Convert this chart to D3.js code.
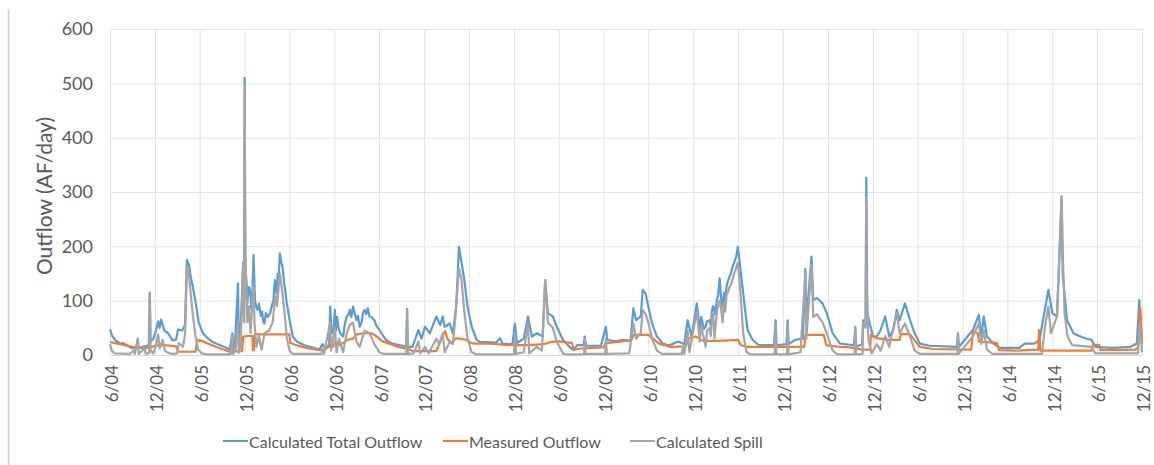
<!DOCTYPE html>
<html>
<head>
<meta charset="utf-8">
<script src="https://cdn.jsdelivr.net/npm/d3@7"></script>
<style>
  html, body { margin: 0; padding: 0; background: #ffffff; }
  svg { display: block; font-family: Lato, "Open Sans", sans-serif; }
</style>
</head>
<body>
<svg id="chart" width="1154" height="465"></svg>
<script>
// Month/year tick labels along the time axis
const tickLabels = ["6/04","12/04","6/05","12/05","6/06","12/06","6/07","12/07","6/08","12/08","6/09","12/09",
  "6/10","12/10","6/11","12/11","6/12","12/12","6/13","12/13","6/14","12/14","6/15","12/15"];
const yTicks = [0, 100, 200, 300, 400, 500, 600];

const seriesNames = ["Calculated Total Outflow", "Measured Outflow", "Calculated Spill"];

// Calculated total outflow (AF/day)
const totalOutflow = [
  ["2004-06-01",47],["2004-06-10",35],["2004-06-25",26],["2004-07-05",24],["2004-07-12",20],["2004-07-20",22],
  ["2004-08-10",18],["2004-08-25",13],["2004-09-15",12],["2004-09-22",30],["2004-09-26",13],["2004-10-20",16],
  ["2004-11-06",18],["2004-11-10",115],["2004-11-13",25],["2004-11-25",30],["2004-12-05",45],["2004-12-14",62],
  ["2004-12-20",50],["2004-12-26",65],["2005-01-08",45],["2005-01-24",40],["2005-02-10",27],["2005-02-25",28],
  ["2005-03-05",47],["2005-03-22",45],["2005-04-02",55],["2005-04-10",175],["2005-04-19",165],["2005-04-27",140],
  ["2005-05-04",126],["2005-05-16",95],["2005-05-28",60],["2005-06-14",40],["2005-07-01",32],["2005-07-20",25],
  ["2005-08-14",20],["2005-09-08",15],["2005-10-01",10],["2005-10-12",40],["2005-10-15",12],["2005-10-22",15],
  ["2005-11-04",132],["2005-11-07",25],["2005-11-16",60],["2005-11-25",171],["2005-11-29",100],["2005-12-01",510],
  ["2005-12-04",160],["2005-12-09",132],["2005-12-12",95],["2005-12-16",120],["2005-12-20",125],["2005-12-25",110],
  ["2005-12-28",85],["2006-01-02",120],["2006-01-06",184],["2006-01-12",101],["2006-01-16",90],["2006-01-22",83],
  ["2006-01-28",95],["2006-02-05",72],["2006-02-10",80],["2006-02-15",61],["2006-02-20",58],["2006-02-25",77],
  ["2006-03-05",70],["2006-03-15",77],["2006-03-20",88],["2006-03-28",100],["2006-04-03",138],["2006-04-10",114],
  ["2006-04-15",150],["2006-04-18",130],["2006-04-23",187],["2006-04-30",170],["2006-05-05",160],["2006-05-10",133],
  ["2006-05-15",120],["2006-05-20",100],["2006-06-02",64],["2006-06-15",34],["2006-07-01",25],["2006-08-01",18],
  ["2006-09-01",14],["2006-10-01",10],["2006-10-14",20],["2006-10-25",12],["2006-11-10",15],["2006-11-14",89],
  ["2006-11-20",40],["2006-11-27",40],["2006-11-30",60],["2006-12-03",83],["2006-12-08",45],["2006-12-12",70],
  ["2006-12-17",52],["2006-12-25",40],["2007-01-06",34],["2007-01-12",55],["2007-01-20",71],["2007-01-28",75],
  ["2007-02-02",83],["2007-02-08",70],["2007-02-15",89],["2007-02-20",80],["2007-03-01",64],["2007-03-07",72],
  ["2007-03-14",52],["2007-03-22",60],["2007-03-28",78],["2007-04-03",83],["2007-04-10",75],["2007-04-16",86],
  ["2007-04-23",71],["2007-05-01",70],["2007-05-13",64],["2007-05-20",55],["2007-06-02",46],["2007-06-29",28],
  ["2007-07-24",21],["2007-09-05",17],["2007-09-20",15],["2007-09-23",85],["2007-09-26",15],["2007-10-15",15],
  ["2007-11-08",46],["2007-11-21",30],["2007-12-05",52],["2007-12-25",40],["2008-01-20",71],["2008-02-05",55],
  ["2008-02-15",71],["2008-02-23",52],["2008-03-15",58],["2008-03-27",40],["2008-04-10",90],["2008-04-21",199],
  ["2008-05-01",172],["2008-05-13",138],["2008-05-26",89],["2008-06-12",52],["2008-07-02",28],["2008-07-14",24],
  ["2008-09-20",23],["2008-10-05",31],["2008-10-16",21],["2008-11-25",20],["2008-12-05",58],["2008-12-13",22],
  ["2009-01-10",30],["2009-01-27",71],["2009-02-12",34],["2009-03-04",40],["2009-03-28",34],["2009-04-07",138],
  ["2009-04-18",77],["2009-05-08",71],["2009-05-24",52],["2009-06-18",28],["2009-07-15",15],["2009-08-01",9],
  ["2009-08-15",18],["2009-09-10",18],["2009-09-15",34],["2009-09-20",17],["2009-11-20",17],["2009-12-10",52],
  ["2009-12-16",28],["2010-01-15",25],["2010-02-20",28],["2010-03-20",25],["2010-04-01",86],["2010-04-12",64],
  ["2010-05-01",71],["2010-05-09",120],["2010-05-21",113],["2010-06-01",89],["2010-06-16",58],["2010-07-06",34],
  ["2010-07-30",21],["2010-08-25",18],["2010-10-01",25],["2010-10-25",20],["2010-11-08",64],["2010-11-24",34],
  ["2010-12-15",95],["2010-12-27",46],["2011-01-02",70],["2011-01-08",58],["2011-01-14",48],["2011-01-20",52],
  ["2011-01-26",62],["2011-02-05",64],["2011-02-10",55],["2011-02-15",83],["2011-02-20",90],["2011-02-28",75],
  ["2011-03-07",101],["2011-03-12",110],["2011-03-18",141],["2011-03-24",105],["2011-03-30",89],["2011-04-05",115],
  ["2011-04-10",100],["2011-04-15",126],["2011-04-20",135],["2011-04-27",144],["2011-05-03",150],["2011-05-10",163],
  ["2011-05-16",170],["2011-05-24",180],["2011-05-31",199],["2011-06-16",138],["2011-06-28",89],["2011-07-10",46],
  ["2011-07-30",28],["2011-08-25",18],["2011-10-25",18],["2011-11-01",64],["2011-11-05",18],["2011-12-15",20],
  ["2011-12-20",64],["2011-12-24",20],["2012-01-20",28],["2012-02-20",30],["2012-03-01",158],["2012-03-05",64],
  ["2012-03-26",181],["2012-04-02",101],["2012-04-17",105],["2012-05-10",95],["2012-05-27",77],["2012-06-20",40],
  ["2012-07-20",21],["2012-09-15",18],["2012-09-20",52],["2012-09-24",15],["2012-10-18",20],["2012-10-22",64],
  ["2012-11-01",64],["2012-11-04",326],["2012-11-08",77],["2012-12-01",34],["2012-12-17",34],["2013-01-01",46],
  ["2013-01-20",71],["2013-02-05",34],["2013-02-22",46],["2013-03-08",83],["2013-03-20",64],["2013-04-10",95],
  ["2013-05-01",64],["2013-05-20",40],["2013-06-10",21],["2013-07-20",17],["2013-11-08",15],["2013-11-12",40],
  ["2013-11-16",15],["2014-01-12",46],["2014-02-05",74],["2014-02-15",34],["2014-02-25",71],["2014-03-10",34],
  ["2014-04-05",21],["2014-05-01",13],["2014-07-20",13],["2014-08-10",21],["2014-09-20",21],["2014-10-10",28],
  ["2014-11-15",120],["2014-12-01",77],["2014-12-20",71],["2015-01-08",292],["2015-01-12",150],["2015-01-30",64],
  ["2015-02-25",40],["2015-03-20",35],["2015-04-20",30],["2015-05-10",28],["2015-05-25",15],["2015-08-01",13],
  ["2015-10-15",15],["2015-11-10",21],["2015-11-20",101],["2015-12-01",20]
];

// Measured outflow (AF/day)
const measuredOutflow = [
  ["2004-06-01",24],["2004-07-01",21],["2004-08-01",18],["2004-09-01",15],["2004-10-15",12],["2004-11-10",14],
  ["2004-12-01",17],["2005-01-15",18],["2005-02-25",16],["2005-03-05",6],["2005-05-15",6],["2005-05-22",28],
  ["2005-06-10",26],["2005-07-10",20],["2005-08-25",12],["2005-10-01",6],["2005-11-20",7],["2005-11-25",34],
  ["2005-12-20",35],["2006-01-02",35],["2006-01-04",9],["2006-01-08",9],["2006-01-12",38],["2006-06-01",38],
  ["2006-06-05",22],["2006-07-01",18],["2006-08-01",14],["2006-09-01",11],["2006-10-01",9],["2006-10-25",10],
  ["2006-11-10",20],["2006-11-25",15],["2006-12-05",25],["2006-12-20",18],["2007-01-05",22],["2007-01-25",28],
  ["2007-02-15",30],["2007-03-01",38],["2007-04-01",40],["2007-05-01",40],["2007-05-20",35],["2007-06-15",25],
  ["2007-07-12",21],["2007-08-15",15],["2007-09-20",12],["2007-10-20",7],["2008-01-20",7],["2008-02-01",20],
  ["2008-02-15",35],["2008-02-25",44],["2008-03-05",30],["2008-03-20",22],["2008-04-10",31],["2008-05-20",28],
  ["2008-06-10",22],["2008-07-01",21],["2008-09-01",21],["2008-10-15",19],["2008-12-01",18],["2009-02-01",18],
  ["2009-04-01",20],["2009-05-01",24],["2009-06-01",25],["2009-07-25",22],["2009-08-01",10],["2009-09-01",12],
  ["2009-11-30",14],["2009-12-10",22],["2010-02-15",25],["2010-03-25",28],["2010-04-01",37],["2010-06-01",37],
  ["2010-07-15",21],["2010-09-01",15],["2010-11-01",16],["2010-11-10",30],["2010-12-10",34],["2011-01-10",26],
  ["2011-03-15",26],["2011-06-01",28],["2011-06-12",18],["2011-07-10",15],["2012-02-25",15],["2012-03-02",37],
  ["2012-05-15",37],["2012-05-25",18],["2012-07-20",15],["2012-09-01",14],["2012-10-15",10],["2012-11-20",10],
  ["2012-11-22",37],["2012-12-15",31],["2013-02-05",28],["2013-03-20",28],["2013-03-25",39],["2013-05-01",38],
  ["2013-06-10",15],["2013-08-01",11],["2014-01-05",10],["2014-01-12",44],["2014-02-01",40],["2014-02-05",25],
  ["2014-04-20",22],["2014-04-28",9],["2014-07-01",8],["2014-10-05",10],["2014-10-08",46],["2014-10-14",8],
  ["2015-05-10",8],["2015-05-15",18],["2015-06-10",18],["2015-06-15",9],["2015-11-05",10],["2015-11-15",15],
  ["2015-11-24",87],["2015-12-01",22]
];

// Calculated spill (AF/day)
const calculatedSpill = [
  ["2004-06-01",20],["2004-06-08",8],["2004-06-20",3],["2004-08-20",2],["2004-09-05",8],["2004-09-10",2],
  ["2004-09-22",28],["2004-09-26",2],["2004-10-20",12],["2004-10-24",2],["2004-11-08",4],["2004-11-10",113],
  ["2004-11-13",8],["2004-11-25",3],["2004-12-05",18],["2004-12-14",38],["2004-12-20",12],["2005-01-01",28],
  ["2005-01-10",8],["2005-01-25",4],["2005-02-10",2],["2005-03-01",3],["2005-03-08",22],["2005-03-25",15],
  ["2005-04-03",40],["2005-04-10",163],["2005-04-18",150],["2005-04-26",110],["2005-05-05",70],["2005-05-15",35],
  ["2005-05-25",10],["2005-06-10",3],["2005-07-01",1],["2005-10-05",1],["2005-10-12",35],["2005-10-15",2],
  ["2005-10-25",10],["2005-11-04",60],["2005-11-07",4],["2005-11-15",20],["2005-11-25",171],["2005-11-29",60],
  ["2005-12-01",495],["2005-12-03",200],["2005-12-08",120],["2005-12-12",60],["2005-12-18",90],["2005-12-25",40],
  ["2006-01-06",130],["2006-01-10",60],["2006-01-18",15],["2006-01-28",35],["2006-02-08",10],["2006-02-20",40],
  ["2006-03-10",45],["2006-03-25",60],["2006-04-05",110],["2006-04-12",90],["2006-04-23",150],["2006-05-02",120],
  ["2006-05-12",80],["2006-05-22",30],["2006-06-02",8],["2006-06-15",2],["2006-10-10",2],["2006-10-14",12],
  ["2006-10-20",2],["2006-11-14",60],["2006-11-18",8],["2006-12-03",50],["2006-12-10",5],["2006-12-20",30],
  ["2007-01-06",5],["2007-01-20",40],["2007-02-02",55],["2007-02-15",60],["2007-03-01",25],["2007-03-14",15],
  ["2007-04-03",45],["2007-04-23",40],["2007-05-13",20],["2007-06-02",5],["2007-06-20",2],["2007-09-20",2],
  ["2007-09-23",83],["2007-09-26",2],["2007-10-20",3],["2007-11-08",25],["2007-11-15",3],["2007-12-05",15],
  ["2007-12-20",3],["2008-01-20",30],["2008-02-01",20],["2008-02-15",40],["2008-02-23",5],["2008-03-15",25],
  ["2008-03-27",20],["2008-04-05",60],["2008-04-21",160],["2008-05-01",140],["2008-05-13",80],["2008-05-26",30],
  ["2008-06-12",5],["2008-07-01",1],["2008-12-01",1],["2008-12-05",40],["2008-12-10",2],["2009-01-10",5],
  ["2009-01-27",60],["2009-02-01",3],["2009-03-04",15],["2009-03-25",8],["2009-04-07",138],["2009-04-18",60],
  ["2009-05-08",50],["2009-05-24",25],["2009-06-18",3],["2009-07-01",1],["2009-09-12",1],["2009-09-15",30],
  ["2009-09-18",2],["2009-12-08",2],["2009-12-10",30],["2009-12-14",2],["2010-03-15",3],["2010-04-01",58],
  ["2010-04-12",30],["2010-05-01",40],["2010-05-09",83],["2010-05-21",75],["2010-06-01",60],["2010-06-16",30],
  ["2010-07-06",8],["2010-07-25",2],["2010-10-15",2],["2010-10-20",15],["2010-10-25",2],["2010-11-08",45],
  ["2010-11-15",5],["2010-12-15",80],["2010-12-27",25],["2011-01-02",55],["2011-01-08",40],["2011-01-14",30],
  ["2011-01-20",15],["2011-01-26",45],["2011-02-05",50],["2011-02-10",35],["2011-02-15",70],["2011-02-20",75],
  ["2011-02-25",30],["2011-03-07",80],["2011-03-12",90],["2011-03-18",100],["2011-03-24",85],["2011-03-30",60],
  ["2011-04-05",95],["2011-04-10",80],["2011-04-15",110],["2011-04-20",115],["2011-04-27",125],["2011-05-03",130],
  ["2011-05-10",140],["2011-05-16",150],["2011-05-24",160],["2011-05-31",170],["2011-06-10",120],["2011-06-22",40],
  ["2011-07-05",6],["2011-07-20",1],["2011-10-28",1],["2011-11-01",55],["2011-11-04",1],["2011-12-17",1],
  ["2011-12-20",55],["2011-12-23",1],["2012-02-10",5],["2012-03-01",150],["2012-03-05",30],["2012-03-26",165],
  ["2012-04-02",70],["2012-04-17",75],["2012-05-10",60],["2012-05-27",40],["2012-06-20",8],["2012-07-10",1],
  ["2012-09-18",1],["2012-09-20",52],["2012-09-23",1],["2012-10-20",2],["2012-10-22",60],["2012-11-01",50],
  ["2012-11-04",290],["2012-11-06",120],["2012-11-12",30],["2012-11-25",3],["2012-12-17",20],["2013-01-01",8],
  ["2013-01-20",35],["2013-02-05",15],["2013-03-08",77],["2013-03-20",40],["2013-04-10",58],["2013-05-01",34],
  ["2013-05-20",8],["2013-06-10",2],["2013-11-10",2],["2013-11-12",40],["2013-11-15",2],["2014-01-12",34],
  ["2014-02-05",58],["2014-02-15",20],["2014-02-25",46],["2014-03-10",10],["2014-04-01",2],["2014-10-20",2],
  ["2014-11-01",52],["2014-11-15",89],["2014-11-25",40],["2014-12-20",71],["2015-01-08",291],["2015-01-12",200],
  ["2015-01-20",77],["2015-02-01",34],["2015-02-20",18],["2015-05-10",15],["2015-05-25",3],["2015-11-15",3],
  ["2015-11-22",60],["2015-12-01",5]
];

const colors = ["#5b9bd5", "#ed7d31", "#a5a5a5"];

const parseDay = d3.timeParse("%Y-%m-%d");
const tickDates = tickLabels.map(s => {
  const [m, yy] = s.split("/").map(Number);
  return new Date(2000 + yy, m - 1, 1);
});

const svg = d3.select("#chart");
svg.append("rect").attr("width", 1154).attr("height", 465).attr("fill", "#ffffff");

// outer frame edge on the left
svg.append("line").attr("x1", 8.5).attr("x2", 8.5).attr("y1", 9).attr("y2", 465)
  .attr("stroke", "#cfcfcf").attr("stroke-width", 1.5);

const plot = { left: 110, right: 1142, top: 29, bottom: 355 };

const x = d3.scaleTime()
  .domain([tickDates[0], tickDates[tickDates.length - 1]])
  .range([plot.left, plot.right]);
const y = d3.scaleLinear().domain([0, 600]).range([plot.bottom, plot.top]);

// gridlines
svg.append("g")
  .attr("transform", `translate(0,${plot.bottom})`)
  .call(d3.axisBottom(x).tickValues(tickDates).tickSize(-(plot.bottom - plot.top)).tickFormat(""))
  .call(g => g.select(".domain").remove())
  .call(g => g.selectAll("line").attr("stroke", "#e3e3e3").attr("stroke-width", 1));

svg.append("g")
  .attr("transform", `translate(${plot.left},0)`)
  .call(d3.axisLeft(y).tickValues(yTicks).tickSize(-(plot.right - plot.left)).tickFormat(""))
  .call(g => g.select(".domain").remove())
  .call(g => g.selectAll("line").attr("stroke", "#e3e3e3").attr("stroke-width", 1));

// y axis labels
svg.append("g")
  .attr("transform", `translate(${plot.left},0)`)
  .call(d3.axisLeft(y).tickValues(yTicks).tickSize(0).tickPadding(17))
  .call(g => g.select(".domain").remove())
  .call(g => g.selectAll("text")
    .attr("fill", "#595959").style("font-size", "18px").style("font-family", "Lato, 'Open Sans', sans-serif"));

// x axis labels, rotated
svg.append("g")
  .attr("transform", `translate(0,${plot.bottom})`)
  .call(d3.axisBottom(x).tickValues(tickDates).tickSize(0).tickFormat((d, i) => tickLabels[i]))
  .call(g => g.select(".domain").attr("stroke", "#d9d9d9"))
  .call(g => g.selectAll("text")
    .attr("fill", "#595959").style("font-size", "17px").style("font-family", "Lato, 'Open Sans', sans-serif")
    .attr("text-anchor", "end")
    .attr("dy", "0.35em")
    .attr("transform", "translate(2,10) rotate(-90)")
    .attr("x", 0).attr("y", 0));

// y axis title
svg.append("text")
  .attr("transform", `translate(43,196) rotate(-90)`)
  .attr("text-anchor", "middle")
  .attr("dominant-baseline", "central")
  .attr("fill", "#595959")
  .style("font-size", "21px")
  .text("Outflow (AF/day)");

// series lines
const line = d3.line()
  .x(d => x(parseDay(d[0])))
  .y(d => y(d[1]));

const seriesData = [totalOutflow, measuredOutflow, calculatedSpill]
  .map(s => s.slice().sort((a, b) => d3.ascending(a[0], b[0])));
seriesData.forEach((data, i) => {
  svg.append("path")
    .datum(data)
    .attr("fill", "none")
    .attr("stroke", colors[i])
    .attr("stroke-width", 2.2)
    .attr("stroke-linejoin", "round")
    .attr("d", line);
});

// legend
const legendX = [223, 443, 630];
const legend = svg.append("g");
seriesNames.forEach((name, i) => {
  const g = legend.append("g").attr("transform", `translate(${legendX[i]},441)`);
  g.append("line").attr("x1", 0).attr("x2", 25).attr("y1", 0).attr("y2", 0)
    .attr("stroke", colors[i]).attr("stroke-width", 2);
  g.append("text").attr("x", 26).attr("y", 0).attr("dominant-baseline", "central")
    .attr("fill", "#595959").style("font-size", "16px").text(name);
});
</script>
</body>
</html>
